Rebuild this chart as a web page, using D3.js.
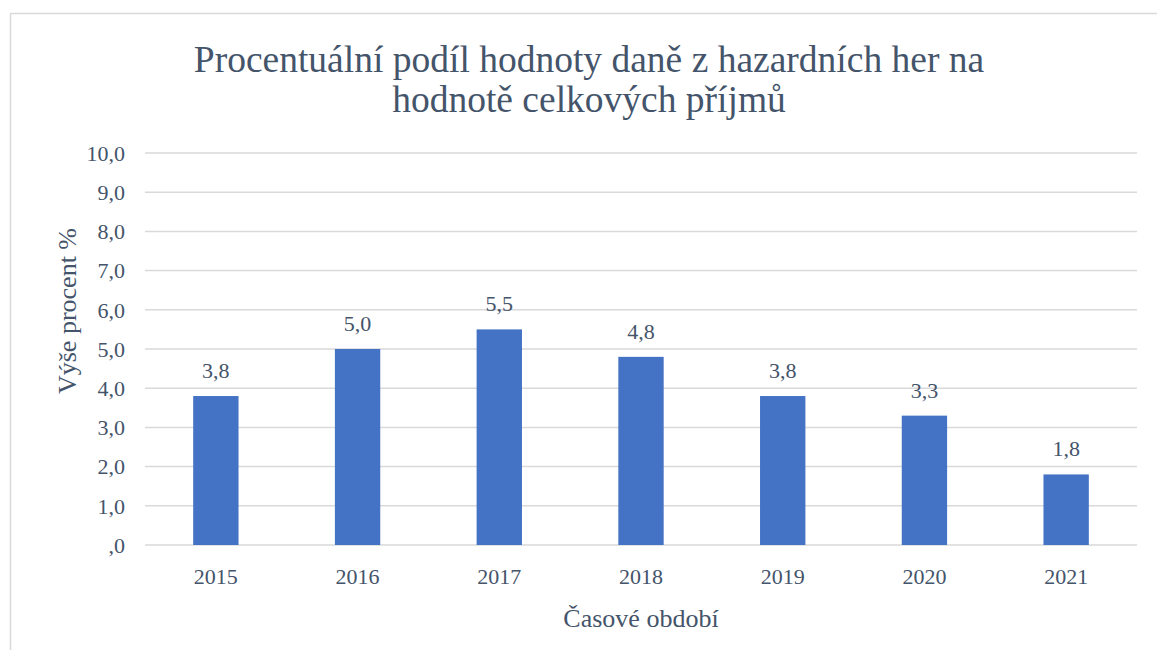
<!DOCTYPE html>
<html>
<head>
<meta charset="utf-8">
<script src="https://cdn.jsdelivr.net/npm/d3@7"></script>
<style>
  body { margin: 0; background: #fff; }
  text { font-family: "Liberation Serif", "Times New Roman", serif; fill: #44546a; }
</style>
</head>
<body>
<svg id="chart" width="1157" height="650"></svg>
<script>
var years = ["2015", "2016", "2017", "2018", "2019", "2020", "2021"];
var values = [3.8, 5.0, 5.5, 4.8, 3.8, 3.3, 1.8];
var yTicks = [0, 1, 2, 3, 4, 5, 6, 7, 8, 9, 10];
var titleLines = ["Procentuální podíl hodnoty daně z hazardních her na", "hodnotě celkových příjmů"];

var svg = d3.select("svg#chart"),
    plotLeft = 145, plotRight = 1137, plotTop = 153, plotBottom = 545;

var fmt = function(v) {
  var s = d3.format(".1f")(v).replace(".", ",");
  return s.indexOf("0,") === 0 ? s.slice(1) : s;
};

svg.append("rect")
    .attr("x", 10.5).attr("y", 13.5)
    .attr("width", 1200).attr("height", 700)
    .attr("fill", "none").attr("stroke", "#d9d9d9").attr("stroke-width", 1.5);

var x = d3.scaleBand().domain(years).range([plotLeft, plotRight]).padding(0);
var y = d3.scaleLinear().domain([0, 10]).range([plotBottom, plotTop]);

// gridlines
svg.append("g").selectAll("line")
  .data(yTicks)
  .enter().append("line")
    .attr("x1", plotLeft).attr("x2", plotRight)
    .attr("y1", function(d) { return y(d); })
    .attr("y2", function(d) { return y(d); })
    .attr("stroke", "#d9d9d9").attr("stroke-width", 1.5);

// y tick labels
svg.append("g").selectAll("text")
  .data(yTicks)
  .enter().append("text")
    .attr("x", 125)
    .attr("y", function(d) { return y(d); })
    .attr("dy", "0.35em")
    .attr("text-anchor", "end")
    .style("font-size", "22px")
    .text(fmt);

var barW = x.bandwidth() * 0.32;

svg.append("g").selectAll("rect")
  .data(values)
  .enter().append("rect")
    .attr("x", function(d, i) { return x(years[i]) + x.bandwidth() / 2 - barW / 2; })
    .attr("y", function(d) { return y(d); })
    .attr("width", barW)
    .attr("height", function(d) { return y(0) - y(d); })
    .attr("fill", "#4472c4");

// data labels
svg.append("g").selectAll("text")
  .data(values)
  .enter().append("text")
    .attr("x", function(d, i) { return x(years[i]) + x.bandwidth() / 2; })
    .attr("y", function(d) { return y(d) - 18; })
    .attr("text-anchor", "middle")
    .style("font-size", "22px")
    .text(fmt);

// x labels
svg.append("g").selectAll("text")
  .data(years)
  .enter().append("text")
    .attr("x", function(d) { return x(d) + x.bandwidth() / 2; })
    .attr("y", 584)
    .attr("text-anchor", "middle")
    .style("font-size", "22px")
    .text(function(d) { return d; });

svg.append("text")
    .attr("x", (plotLeft + plotRight) / 2).attr("y", 627)
    .attr("text-anchor", "middle")
    .style("font-size", "26px")
    .text("Časové období");

svg.append("text")
    .attr("transform", "translate(76,311) rotate(-90)")
    .attr("text-anchor", "middle")
    .style("font-size", "26px")
    .text("Výše procent %");

svg.append("g").selectAll("text")
  .data(titleLines)
  .enter().append("text")
    .attr("x", 589)
    .attr("y", function(d, i) { return 72 + i * 40; })
    .attr("text-anchor", "middle")
    .style("font-size", "37.5px")
    .text(function(d) { return d; });
</script>
</body>
</html>
